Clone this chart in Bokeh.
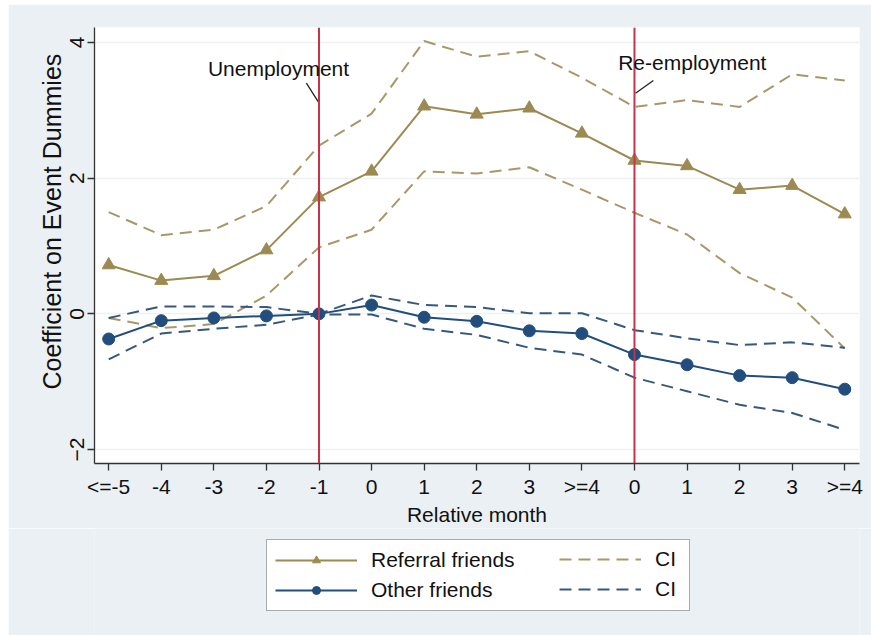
from bokeh.plotting import figure
from bokeh.layouts import column
from bokeh.models import (Range1d, FixedTicker, Span, Legend, LegendItem, Label,
                          Title)
from bokeh.embed import file_html
from bokeh.resources import INLINE

# Event-study coefficients by relative month (unemployment spell, then re-employment)
months = ["<=-5", "-4", "-3", "-2", "-1", "0", "1", "2", "3", ">=4",
          "0", "1", "2", "3", ">=4"]
referral = [0.72, 0.49, 0.56, 0.94, 1.72, 2.10, 3.06, 2.94, 3.03, 2.66,
            2.26, 2.18, 1.83, 1.89, 1.47]
referral_hi = [1.50, 1.16, 1.24, 1.59, 2.48, 2.95, 4.02, 3.79, 3.87, 3.48,
               3.05, 3.15, 3.05, 3.53, 3.44]
referral_lo = [-0.06, -0.21, -0.15, 0.27, 0.98, 1.24, 2.10, 2.07, 2.16, 1.83,
               1.49, 1.17, 0.60, 0.24, -0.51]
other = [-0.37, -0.10, -0.06, -0.03, 0.00, 0.13, -0.05, -0.11, -0.25, -0.29,
         -0.60, -0.75, -0.91, -0.94, -1.11]
other_hi = [-0.06, 0.11, 0.11, 0.10, 0.00, 0.27, 0.13, 0.10, 0.01, 0.01,
            -0.24, -0.36, -0.46, -0.42, -0.50]
other_lo = [-0.67, -0.29, -0.22, -0.16, -0.01, -0.01, -0.22, -0.31, -0.50, -0.60,
            -0.94, -1.14, -1.34, -1.46, -1.71]
y_ticks = [-2, 0, 2, 4]

events = ["Unemployment", "Re-employment"]
event_month = [4, 10]          # index into months
event_label_pos = [(3.23, 3.62), (11.10, 3.70)]
event_pointer = [((3.76, 3.40), (3.99, 3.12)), ((10.36, 3.44), (10.02, 3.25))]

FONT = "Liberation Sans"
REF_COL = "#9C8A52"
REF_CI = "#A89868"
OTH_COL = "#214E7C"
OTH_CI = "#36587F"
EVENT_COL = "#C8324A"
BG = "#EAF0F3"
DASH = "12 7"
NAN = float("nan")

x = list(range(len(months)))

p = figure(width=863, height=524, output_backend="svg", toolbar_location=None,
           x_range=Range1d(-0.27, 14.28), y_range=Range1d(-2.205, 4.22),
           min_border_left=86, min_border_top=23, min_border_right=12,
           min_border_bottom=62, background_fill_color="white",
           border_fill_color=BG, outline_line_color=None)
p.margin = (4, 0, 0, 8)

# axes
p.xaxis.ticker = FixedTicker(ticks=x)
p.xaxis.major_label_overrides = {i: m for i, m in enumerate(months)}
p.yaxis.ticker = FixedTicker(ticks=y_ticks)
p.xaxis.axis_label = "Relative month"
for ax in (p.xaxis[0], p.yaxis[0]):
    ax.axis_line_color = "#333333"
    ax.axis_line_width = 1.3
    ax.major_tick_line_color = "#333333"
    ax.major_tick_line_width = 1.3
    ax.major_tick_out = 7
    ax.major_tick_in = 0
    ax.minor_tick_line_color = None
    ax.major_label_text_font = FONT
    ax.major_label_text_font_size = "21px"
    ax.major_label_text_color = "#111111"
    ax.axis_label_text_font = FONT
    ax.axis_label_text_font_size = "21px"
    ax.axis_label_text_font_style = "normal"
    ax.axis_label_text_color = "#111111"
p.yaxis.major_label_orientation = "vertical"
p.xaxis.major_label_standoff = 4
p.xaxis.axis_label_standoff = 2
p.yaxis.major_label_standoff = 3
p.xgrid.grid_line_color = None
p.ygrid.ticker = FixedTicker(ticks=y_ticks)
p.ygrid.grid_line_color = "#EDF1F4"
p.ygrid.grid_line_width = 1.5

# y-axis title, placed along the left side
p.add_layout(Title(text="Coefficient on Event Dummies", align="left", offset=74,
                   standoff=4, text_font=FONT, text_font_size="25px",
                   text_font_style="normal", text_color="#111111"), "left")

# event markers
for m in event_month:
    p.add_layout(Span(location=m, dimension="height", line_color=EVENT_COL,
                      line_width=2))

p.line(x, referral_hi, line_color=REF_CI, line_width=2, line_dash=DASH)
p.line(x, referral_lo, line_color=REF_CI, line_width=2, line_dash=DASH)
p.line(x, other_hi, line_color=OTH_CI, line_width=2, line_dash=DASH)
p.line(x, other_lo, line_color=OTH_CI, line_width=2, line_dash=DASH)

p.line(x, referral, line_color=REF_COL, line_width=2)
p.scatter(x, referral, marker="triangle", size=13, fill_color=REF_COL,
          line_color=REF_COL)
p.line(x, other, line_color=OTH_COL, line_width=2)
p.scatter(x, other, marker="circle", size=12, fill_color=OTH_COL,
          line_color=OTH_COL)

# event annotations
for name, (lx, ly), ((x0, y0), (x1, y1)) in zip(events, event_label_pos, event_pointer):
    p.add_layout(Label(x=lx, y=ly, text=name, text_align="center",
                       text_baseline="middle", text_font=FONT,
                       text_font_size="21px", text_color="#111111"))
    p.segment(x0=[x0], y0=[y0], x1=[x1], y1=[y1], line_color="#222222",
              line_width=1.3)

# legend strip under the chart (its frame lines up with the chart's frame)
lg = figure(width=863, height=107, output_backend="svg", toolbar_location=None,
            x_range=Range1d(0, 1), y_range=Range1d(0, 1), min_border=0,
            background_fill_color=BG, border_fill_color=BG,
            outline_line_color=None)
lg.margin = (0, 0, 0, 8)
lg.axis.visible = False
lg.grid.visible = False

# legend keys: styled renderers with no visible points
k_ref = lg.line([NAN], [NAN], line_color=REF_COL, line_width=2)
k_ref_m = lg.scatter([NAN], [NAN], marker="triangle", size=13,
                     fill_color=REF_COL, line_color=REF_COL)
k_oth = lg.line([NAN], [NAN], line_color=OTH_COL, line_width=2)
k_oth_m = lg.scatter([NAN], [NAN], marker="circle", size=12,
                     fill_color=OTH_COL, line_color=OTH_COL)
k_ref_ci = lg.line([NAN], [NAN], line_color=REF_CI, line_width=2, line_dash=DASH)
k_oth_ci = lg.line([NAN], [NAN], line_color=OTH_CI, line_width=2, line_dash=DASH)

common = dict(glyph_width=82, glyph_height=20, label_standoff=14, spacing=6,
              label_text_font=FONT, label_text_font_size="21px",
              label_text_color="#111111", padding=8, margin=0, label_height=20)
legend_series = Legend(items=[
    LegendItem(label="Referral friends", renderers=[k_ref, k_ref_m]),
    LegendItem(label="Other friends", renderers=[k_oth, k_oth_m]),
], location=(172, 24), label_width=310,
    border_line_color="#555555", border_line_width=1.5,
    background_fill_color="white", background_fill_alpha=1, **common)
legend_ci = Legend(items=[
    LegendItem(label="CI", renderers=[k_ref_ci]),
    LegendItem(label="CI", renderers=[k_oth_ci]),
], location=(465, 34), border_line_color=None, background_fill_alpha=0,
    **common)
lg.add_layout(legend_series)
lg.add_layout(legend_ci)

layout = column(p, lg, spacing=0)
open("out.html", "w").write(file_html(layout, INLINE))
